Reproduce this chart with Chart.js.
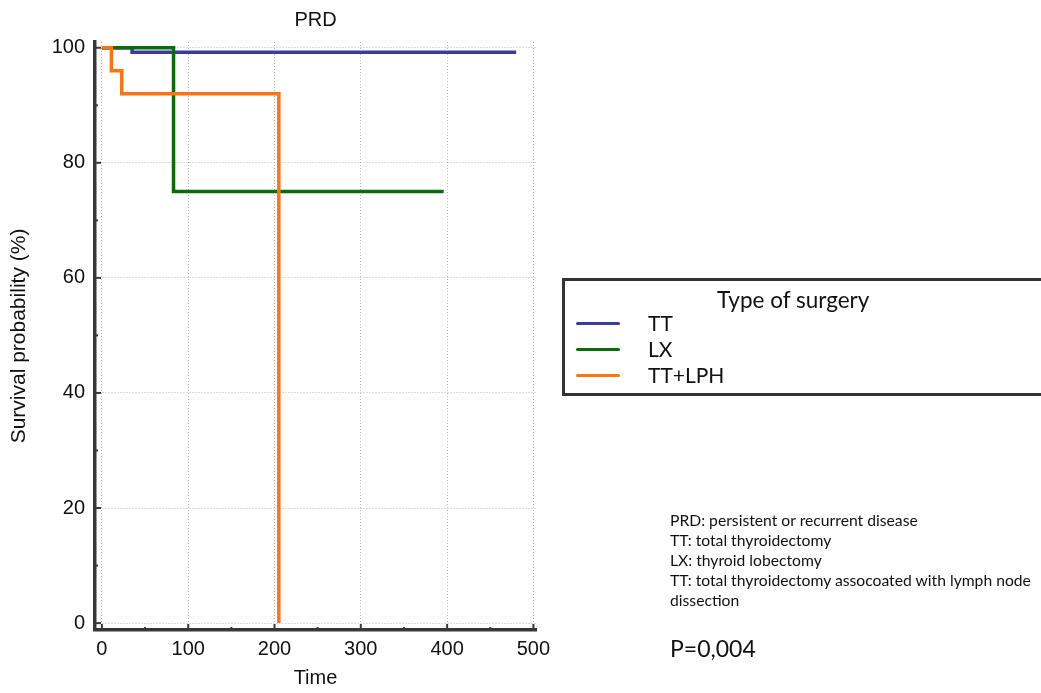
<!DOCTYPE html>
<html>
<head>
<meta charset="utf-8">
<script src="https://cdn.jsdelivr.net/npm/chart.js@4.4.1/dist/chart.umd.min.js"></script>
<style>
  body { margin: 0; background: #fff; }
  #wrap { position: relative; width: 1041px; height: 693px; overflow: hidden; }
  #plot { position: absolute; left: 0; top: 0; }
  .box { position: absolute; left: 562px; top: 278px; width: 520px; height: 112px; border: 3px solid #333; }
  .lg { position: absolute; font-family: Lato, "Open Sans", sans-serif; color: #111; white-space: nowrap; }
  .sw { position: absolute; height: 3px; border-radius: 2px; }
  .note { position: absolute; left: 670px; font-family: Lato, "Open Sans", sans-serif; color: #111; white-space: nowrap; }
</style>
</head>
<body>
<div id="wrap">
  <canvas id="plot" width="1041" height="693"></canvas>
</div>
<script>
// Kaplan-Meier steps: time of each step and survival after it
const seriesNames = ['TT', 'LX', 'TT+LPH'];
const ttTime = [0, 35, 480];
const ttSurv = [100, 99.2, 99.2];
const lxTime = [0, 83, 396];
const lxSurv = [100, 75, 75];
const lphTime = [0, 11, 23, 205];
const lphSurv = [100, 96, 92, 0];

const xTicks = [0, 100, 200, 300, 400, 500];
const yTicks = [0, 20, 40, 60, 80, 100];

const colors = ['#3b3b9d', '#0b6b0b', '#ff7412'];
const notes = [
  'PRD: persistent or recurrent disease',
  'TT: total thyroidectomy',
  'LX: thyroid lobectomy',
  'TT: total thyroidectomy assocoated with lymph node',
  'dissection'
];

const toPoints = (t, s) => t.map((v, i) => ({ x: v, y: s[i] }));

const axisFont = { family: '"Liberation Sans", Arial, sans-serif', size: 20 };

// small inward tick marks + title over the plot area
const decor = {
  id: 'decor',
  afterDraw(chart) {
    const { ctx, chartArea, scales: { x, y } } = chart;
    ctx.save();
    ctx.strokeStyle = '#3a3a3a';
    ctx.lineWidth = 2;
    const xs = [];
    xTicks.forEach((v, i) => {
      xs.push([v, 6]);
      if (i < xTicks.length - 1) xs.push([(v + xTicks[i + 1]) / 2, 3]);
    });
    xs.forEach(([v, len]) => {
      const px = x.getPixelForValue(v);
      ctx.beginPath();
      ctx.moveTo(px, chartArea.bottom);
      ctx.lineTo(px, chartArea.bottom - len);
      ctx.stroke();
    });
    const ys = [];
    yTicks.forEach((v, i) => {
      ys.push([v, 6]);
      if (i < yTicks.length - 1) ys.push([(v + yTicks[i + 1]) / 2, 3]);
    });
    ys.forEach(([v, len]) => {
      const py = y.getPixelForValue(v);
      ctx.beginPath();
      ctx.moveTo(chartArea.left, py);
      ctx.lineTo(chartArea.left + len, py);
      ctx.stroke();
    });
    ctx.fillStyle = '#111';
    ctx.font = '20px "Liberation Sans", Arial, sans-serif';
    ctx.textAlign = 'center';
    ctx.textBaseline = 'middle';
    ctx.fillText('PRD', (chartArea.left + chartArea.right) / 2, 20);
    ctx.restore();
  }
};

const ctx = document.getElementById('plot').getContext('2d');
new Chart(ctx, {
  type: 'line',
  data: {
    datasets: [
      { label: seriesNames[0], data: toPoints(ttTime, ttSurv), borderColor: colors[0], order: 2 },
      { label: seriesNames[1], data: toPoints(lxTime, lxSurv), borderColor: colors[1], order: 1 },
      { label: seriesNames[2], data: toPoints(lphTime, lphSurv), borderColor: colors[2], order: 0 }
    ].map(d => Object.assign(d, { stepped: true, borderWidth: 3.5, pointRadius: 0, fill: false, tension: 0 }))
  },
  options: {
    responsive: false,
    animation: false,
    layout: { padding: { left: 0, right: 505, top: 42, bottom: 0 } },
    plugins: {
      legend: { display: false },
      tooltip: { enabled: false }
    },
    scales: {
      x: {
        type: 'linear',
        min: -8,
        max: 503,
        afterBuildTicks: s => { s.ticks = xTicks.map(v => ({ value: v })); },
        afterFit: s => { s.height = 63; },
        ticks: { font: axisFont, color: '#111', padding: 7, maxRotation: 0 },
        grid: { color: '#b8b8b8', lineWidth: 1, drawTicks: false },
        border: { display: true, width: 3.5, color: '#383838', dash: [1, 2] },
        title: { display: true, text: 'Time', font: axisFont, color: '#111', padding: { top: 0, bottom: 3 } }
      },
      y: {
        type: 'linear',
        min: -1.2,
        max: 101,
        afterBuildTicks: s => { s.ticks = yTicks.map(v => ({ value: v })); },
        afterFit: s => { s.width = 95; },
        ticks: { font: axisFont, color: '#111', padding: 10 },
        grid: { color: '#b8b8b8', lineWidth: 1, drawTicks: false },
        border: { display: true, width: 3.5, color: '#383838', dash: [1, 2] },
        title: { display: true, text: 'Survival probability (%)', font: { family: axisFont.family, size: 21 }, color: '#111', padding: { top: 7, bottom: 0 } }
      }
    }
  },
  plugins: [decor]
});

// legend box and notes
const wrap = document.getElementById('wrap');
const add = (cls, css, text) => {
  const el = document.createElement('div');
  el.className = cls;
  Object.assign(el.style, css);
  if (text) el.textContent = text;
  wrap.appendChild(el);
  return el;
};
add('box', {});
add('lg', { left: '717px', top: '285px', fontSize: '22.5px', lineHeight: '30px' }, 'Type of surgery');
const rowY = [323, 349, 375];
seriesNames.forEach((name, i) => {
  add('sw', { left: '576px', top: (rowY[i] - 1) + 'px', width: '44px', background: colors[i] });
  add('lg', { left: '648px', top: (rowY[i] - 13) + 'px', fontSize: '21px', lineHeight: '26px' }, name);
});
notes.forEach((t, i) => {
  add('note', { top: (510 + i * 20) + 'px', fontSize: '15.7px', lineHeight: '20px' }, t);
});
add('note', { top: '634px', fontSize: '23px', lineHeight: '28px' }, 'P=0,004');
</script>
</body>
</html>
